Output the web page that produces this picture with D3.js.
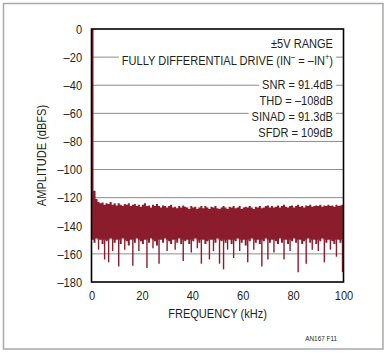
<!DOCTYPE html>
<html><head><meta charset="utf-8">
<script src="https://cdn.jsdelivr.net/npm/d3@7"></script>
<style>
html,body{margin:0;padding:0;background:#fff;}
svg text{font-family:"Liberation Sans",Arial,sans-serif;fill:#231f20;}
</style></head>
<body><svg id="c" width="386" height="355"></svg>
<script>
// FFT bins: each bin covers binWidthKHz, starting at 0 kHz
const binWidthKHz = 0.8;
const peakDb = [
  0, -115, -121, -123, -124, -123.5, -125, -124, -124.5, -123,
  -125, -124, -125.5, -124, -125, -126, -124.5, -125, -124, -126,
  -125, -124.5, -126, -125, -126.5, -125, -124, -126, -125.5, -127,
  -125, -126, -124.5, -126, -127, -125.5, -126, -127, -126, -125,
  -127, -126.5, -127.5, -126, -127, -125.5, -126.5, -127, -128, -126,
  -127, -126.5, -128, -127, -126, -127.5, -126, -127, -128, -126.5,
  -127, -126, -127.5, -128, -127, -126, -127, -128, -126.5, -127,
  -126, -127.5, -127, -126, -128, -127, -126.5, -127, -126, -127,
  -128, -126.5, -127, -126, -127.5, -127, -126, -125.5, -127, -126,
  -127, -126.5, -125.5, -127, -126, -125, -126.5, -127, -126, -125.5,
  -127, -126, -125, -126.5, -126, -127, -125.5, -126, -125, -126.5,
  -126, -125.5, -126, -125, -126.5, -125.5, -126, -125, -126, -125.5,
  -126.5, -125, -126, -125.5, -125
];
const troughDb = [
  -150, -152, -149, -157, -150, -153, -164, -151, -166, -149,
  -158, -152, -150, -169, -153, -149, -157, -151, -154, -150,
  -168.5, -152, -149, -158, -151, -153, -150, -170, -152, -149,
  -156, -151, -154, -167, -150, -152, -149, -158, -151, -153,
  -150, -157, -152, -149, -153, -165, -151, -150, -153, -159,
  -151, -149, -156, -152, -167, -150, -153, -151, -164, -150,
  -158, -152, -149, -167, -151, -171, -152, -157, -150, -153,
  -163, -151, -149, -158, -152, -150, -154, -166, -151, -149,
  -157, -152, -150, -153, -169, -151, -149, -164, -152, -150,
  -159, -151, -153, -149, -152, -164, -150, -153, -158, -151,
  -149, -152, -173, -150, -153, -151, -167, -149, -152, -157,
  -150, -153, -158, -151, -149, -166, -152, -150, -157, -151,
  -153, -162, -150, -152, -173
];
const xTicks = [0, 20, 40, 60, 80, 100];
const yTicks = [0, -20, -40, -60, -80, -100, -120, -140, -160, -180];
const xTitle = "FREQUENCY (kHz)";
const yTitle = "AMPLITUDE (dBFS)";
const noteLines = ["±5V RANGE", "FULLY", "SNR = 91.4dB", "THD = –108dB", "SINAD = 91.3dB", "SFDR = 109dB"];
const figId = "AN167 F11";

const svg = d3.select("#c");
const X0 = 91.5, X1 = 343.5, Y0 = 29, Y1 = 282;
const x = d3.scaleLinear().domain([0, 100]).range([X0, X1]);
const y = d3.scaleLinear().domain([0, -180]).range([Y0, Y1]);
const red = "#8a1c2b";
const SX = 0.82; // condensed type
const FS = 13.5;

// outer frame
svg.append("rect").attr("x", 3.5).attr("y", 3.5).attr("width", 379.5).attr("height", 345.5)
  .attr("fill", "none").attr("stroke", "#a7a9ac").attr("stroke-width", 1.5);

// grid
svg.append("g").selectAll("line").data(yTicks.filter(d => d < 0 && d > -180)).join("line")
  .attr("x1", X0).attr("x2", X1).attr("y1", d => y(d)).attr("y2", d => y(d))
  .attr("stroke", "#8c8c8c").attr("stroke-width", 1);

// data: one stepped area for the body; deep troughs drawn as thin strokes
const deepLimit = -155, bodyFloor = -150;
const bins = peakDb.map((p, i) => ({f: i * binWidthKHz, hi: p, lo: troughDb[i]}));
const last = bins[bins.length - 1];
const areaPts = bins.concat([{f: 100, hi: last.hi, lo: last.lo}]);
const bodyLo = d => d.lo >= deepLimit ? d.lo : bodyFloor;
const area = d3.area().curve(d3.curveStepAfter)
  .x(d => x(d.f)).y0(d => y(bodyLo(d))).y1(d => y(d.hi));
svg.append("path").datum(areaPts).attr("d", area).attr("fill", red);
const cx = d => Math.min(x(d.f + binWidthKHz / 2), X1 - 0.7);
svg.append("g").selectAll("line").data(bins.filter(d => d.lo < deepLimit)).join("line")
  .attr("x1", cx).attr("x2", cx)
  .attr("y1", y(bodyFloor) - 0.5).attr("y2", d => y(d.lo))
  .attr("stroke", red).attr("stroke-width", 1.4);

// notes with white background
const noteY = [48, 65, 89, 105, 121, 137];
noteLines.forEach((n, i) => {
  const g = svg.append("g").attr("transform", `translate(333,${noteY[i]}) scale(${SX},1)`);
  const t = g.append("text").attr("text-anchor", "end").attr("font-size", FS);
  if (n === "FULLY") {
    t.append("tspan").text("FULLY DIFFERENTIAL DRIVE (IN");
    t.append("tspan").text("–").attr("font-size", 9).attr("dy", -5);
    t.append("tspan").text(" = –IN").attr("dy", 5);
    t.append("tspan").text("+").attr("font-size", 9).attr("dy", -5);
    t.append("tspan").text(")").attr("dy", 5);
  } else {
    t.text(n);
  }
  const b = t.node().getBBox();
  g.insert("rect", () => t.node()).attr("x", b.x - 3.5).attr("y", b.y + 1)
    .attr("width", b.width + 7).attr("height", b.height - 2).attr("fill", "#fff");
});

// plot frame
svg.append("rect").attr("x", X0).attr("y", Y0).attr("width", X1 - X0).attr("height", Y1 - Y0)
  .attr("fill", "none").attr("stroke", "#000").attr("stroke-width", 1.6);

// axes
const fmt = d => d < 0 ? "–" + Math.abs(d) : String(d);
const ya = svg.append("g").attr("transform", `translate(${X0},0)`)
  .call(d3.axisLeft(y).tickValues(yTicks).tickSize(0).tickPadding(11.5).tickFormat(fmt));
ya.select(".domain").remove();
ya.attr("font-family", null).attr("font-size", null);
ya.selectAll("text").attr("font-size", FS).attr("fill", "#231f20").attr("transform", `scale(${SX},1)`);
const xa = svg.append("g").attr("transform", `translate(0,${Y1})`)
  .call(d3.axisBottom(x).tickValues(xTicks).tickSize(0).tickPadding(8).tickFormat(fmt));
xa.select(".domain").remove();
xa.attr("font-family", null).attr("font-size", null);
xa.selectAll("text").attr("font-size", FS).attr("fill", "#231f20").attr("transform", `scale(${SX},1)`);

svg.append("text").attr("transform", `translate(${(X0 + X1) / 2},318) scale(${SX},1)`)
  .attr("text-anchor", "middle").attr("font-size", FS).text(xTitle);
svg.append("text").attr("transform", `translate(46,${(Y0 + Y1) / 2}) rotate(-90) scale(${SX},1)`)
  .attr("text-anchor", "middle").attr("font-size", FS).text(yTitle);
svg.append("text").attr("transform", `translate(337,341) scale(0.85,1)`).attr("text-anchor", "end")
  .attr("font-size", 7.5).text(figId);
</script></body></html>
